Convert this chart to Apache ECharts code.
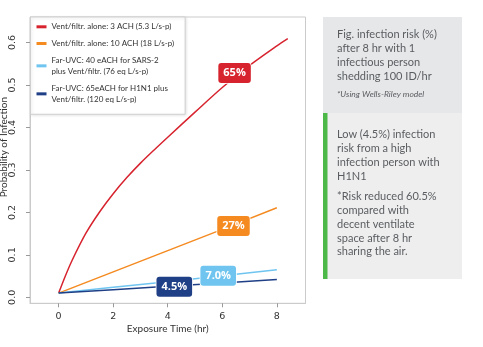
<!DOCTYPE html>
<html>
<head>
<meta charset="utf-8">
<script src="https://cdn.jsdelivr.net/npm/echarts@6/dist/echarts.min.js"></script>
<style>
html,body{margin:0;padding:0;background:#fff;}
#chart{width:483px;height:347px;}
</style>
</head>
<body>
<div id="chart"></div>
<script>
// ---- data ----
const seriesNames = [
  'Vent/filtr. alone: 3 ACH (5.3 L/s-p)',
  'Vent/filtr. alone: 10 ACH (18 L/s-p)',
  'Far-UVC: 40 eACH for SARS-2\nplus Vent/filtr. (76 eq L/s-p)',
  'Far-UVC: 65eACH for H1N1 plus\nVent/filtr. (120 eq L/s-p)'
];
const timeRed = [0, 0.25, 0.5, 1, 1.5, 2, 2.5, 3, 3.5, 4, 5, 6, 7, 8, 8.4];
const probRed = [0.01, 0.051, 0.088, 0.151, 0.201, 0.244, 0.282, 0.316, 0.347, 0.377, 0.436, 0.494, 0.546, 0.592, 0.609];
const timeLin = [0, 2, 4, 6, 8];
const probOrange = [0.01, 0.06, 0.11, 0.16, 0.211];
const probLightBlue = [0.01, 0.024, 0.037, 0.051, 0.065];
const probDarkBlue = [0.01, 0.018, 0.026, 0.034, 0.042];
const seriesColors = ['#d7232e', '#f48a20', '#6fc5f0', '#1f3f86'];
const calloutText = ['65%', '27%', '7.0%', '4.5%'];
const calloutX = [6.45, 6.41, 5.85, 4.24];
const calloutY = [0.528, 0.168, 0.051, 0.025];
const xTicks = [0, 2, 4, 6, 8];
const yTicks = [0.0, 0.1, 0.2, 0.3, 0.4, 0.5, 0.6];
const xAxisName = 'Exposure Time (hr)';
const yAxisName = 'Probability of Infection';
const noteTitle = 'Fig. infection risk (%)\nafter 8 hr with 1\ninfectious person\nshedding 100 ID/hr';
const noteModel = '*Using Wells-Riley model';
const noteLow = 'Low (4.5%) infection\nrisk from a high\ninfection person with\nH1N1';
const noteRisk = '*Risk reduced 60.5%\ncompared with\ndecent ventilate\nspace after 8 hr\nsharing the air.';

const zip = (xs, ys) => xs.map((x, i) => [x, ys[i]]);
const lineData = [zip(timeRed, probRed), zip(timeLin, probOrange), zip(timeLin, probLightBlue), zip(timeLin, probDarkBlue)];

const chart = echarts.init(document.getElementById('chart'), null, {renderer: 'canvas'});

const series = seriesNames.map((name, i) => ({
  name: name,
  type: 'line',
  data: lineData[i],
  showSymbol: false,
  smooth: i === 0 ? 0.3 : false,
  lineStyle: {color: seriesColors[i], width: 1.5},
  itemStyle: {color: seriesColors[i]},
  z: 3
}));

series.push({
  type: 'scatter',
  name: 'callouts',
  symbolSize: 0,
  z: 10,
  silent: true,
  itemStyle: {opacity: 1},
  data: calloutText.map((t, i) => ({
    value: [calloutX[i], calloutY[i]],
    name: t,
    label: {backgroundColor: seriesColors[i]}
  })),
  label: {
    show: true,
    opacity: 1,
    position: 'inside',
    formatter: p => p.name,
    color: '#fff',
    fontFamily: 'Open Sans',
    fontWeight: 'bold',
    fontSize: 11,
    lineHeight: 12,
    padding: [4, 5, 4, 5],
    borderRadius: 3,
    borderColor: '#ffffff',
    borderWidth: 0.8
  }
});

const multi = {padding: [10.3, 0, 0, 0]};
const single = {padding: [4.65, 0, 4.65, 0]};

const option = {
  animation: false,
  backgroundColor: '#ffffff',
  grid: {left: 30, right: 177.5, top: 17, bottom: 43.7, show: true, borderColor: '#cbcbcb', borderWidth: 1, containLabel: false, outerBoundsMode: 'none'},
  legend: {
    orient: 'vertical',
    left: 30.5,
    top: 17,
    padding: [0, 11, 5, 6],
    itemGap: -2.9,
    itemWidth: 10,
    itemHeight: 3,
    icon: 'rect',
    backgroundColor: '#ffffff',
    borderColor: '#d0d0d0',
    borderWidth: 1,
    shadowColor: 'rgba(0,0,0,0.12)',
    shadowBlur: 3,
    shadowOffsetX: 1,
    shadowOffsetY: 1,
    textStyle: {fontFamily: 'Lato', fontSize: 8, lineHeight: 10.3, color: '#333'},
    data: seriesNames.map(n => ({name: n, textStyle: n.indexOf('\n') >= 0 ? multi : single}))
  },
  xAxis: {
    type: 'value',
    min: -1.05,
    max: 9.05,
    name: xAxisName,
    nameLocation: 'middle',
    nameGap: 20,
    nameMoveOverlap: false,
    nameTextStyle: {fontFamily: 'Lato', fontSize: 10, color: '#333'},
    axisLine: {show: true, onZero: false, lineStyle: {color: '#cbcbcb'}},
    axisTick: {show: true, customValues: xTicks, length: 4, lineStyle: {color: '#999'}},
    axisLabel: {customValues: xTicks, margin: 8, fontFamily: 'DejaVu Sans', fontSize: 9.5, color: '#333', formatter: v => String(v)},
    splitLine: {show: false}
  },
  yAxis: {
    type: 'value',
    min: -0.014,
    max: 0.66,
    name: yAxisName,
    nameLocation: 'middle',
    nameGap: 21,
    nameMoveOverlap: false,
    nameTextStyle: {fontFamily: 'Lato', fontSize: 10, color: '#333', padding: [0, 0, 0, 26]},
    axisLine: {show: true, onZero: false, lineStyle: {color: '#cbcbcb'}},
    axisTick: {show: true, customValues: yTicks, length: 4, lineStyle: {color: '#999'}},
    axisLabel: {customValues: yTicks, rotate: 90, margin: 12, fontFamily: 'DejaVu Sans', fontSize: 9.5, color: '#333', formatter: v => v.toFixed(1)},
    splitLine: {show: false}
  },
  series: series,
  graphic: [
    {type: 'rect', shape: {x: 323, y: 17, width: 139, height: 96}, style: {fill: '#e6e7e9'}, z: 0},
    {type: 'rect', shape: {x: 323, y: 113, width: 139, height: 166}, style: {fill: '#eeeeef'}, z: 0},
    {type: 'rect', shape: {x: 323, y: 113, width: 4.5, height: 166}, style: {fill: '#4cb848'}, z: 1},
    {type: 'text', x: 337, y: 26.9, z: 2, style: {text: noteTitle, font: '11px Lato', lineHeight: 14.3, fill: '#5a5d60', verticalAlign: 'top'}},
    {type: 'text', x: 337, y: 89.5, z: 2, style: {text: noteModel, font: 'italic 8.5px Lato', lineHeight: 10, fill: '#5a5d60', verticalAlign: 'top'}},
    {type: 'text', x: 337, y: 127.3, z: 2, style: {text: noteLow, font: '11px Lato', lineHeight: 14, fill: '#5a5d60', verticalAlign: 'top'}},
    {type: 'text', x: 337, y: 189.8, z: 2, style: {text: noteRisk, font: '11px Lato', lineHeight: 13.8, fill: '#5a5d60', verticalAlign: 'top'}}
  ]
};
chart.setOption(option);
</script>
</body>
</html>
